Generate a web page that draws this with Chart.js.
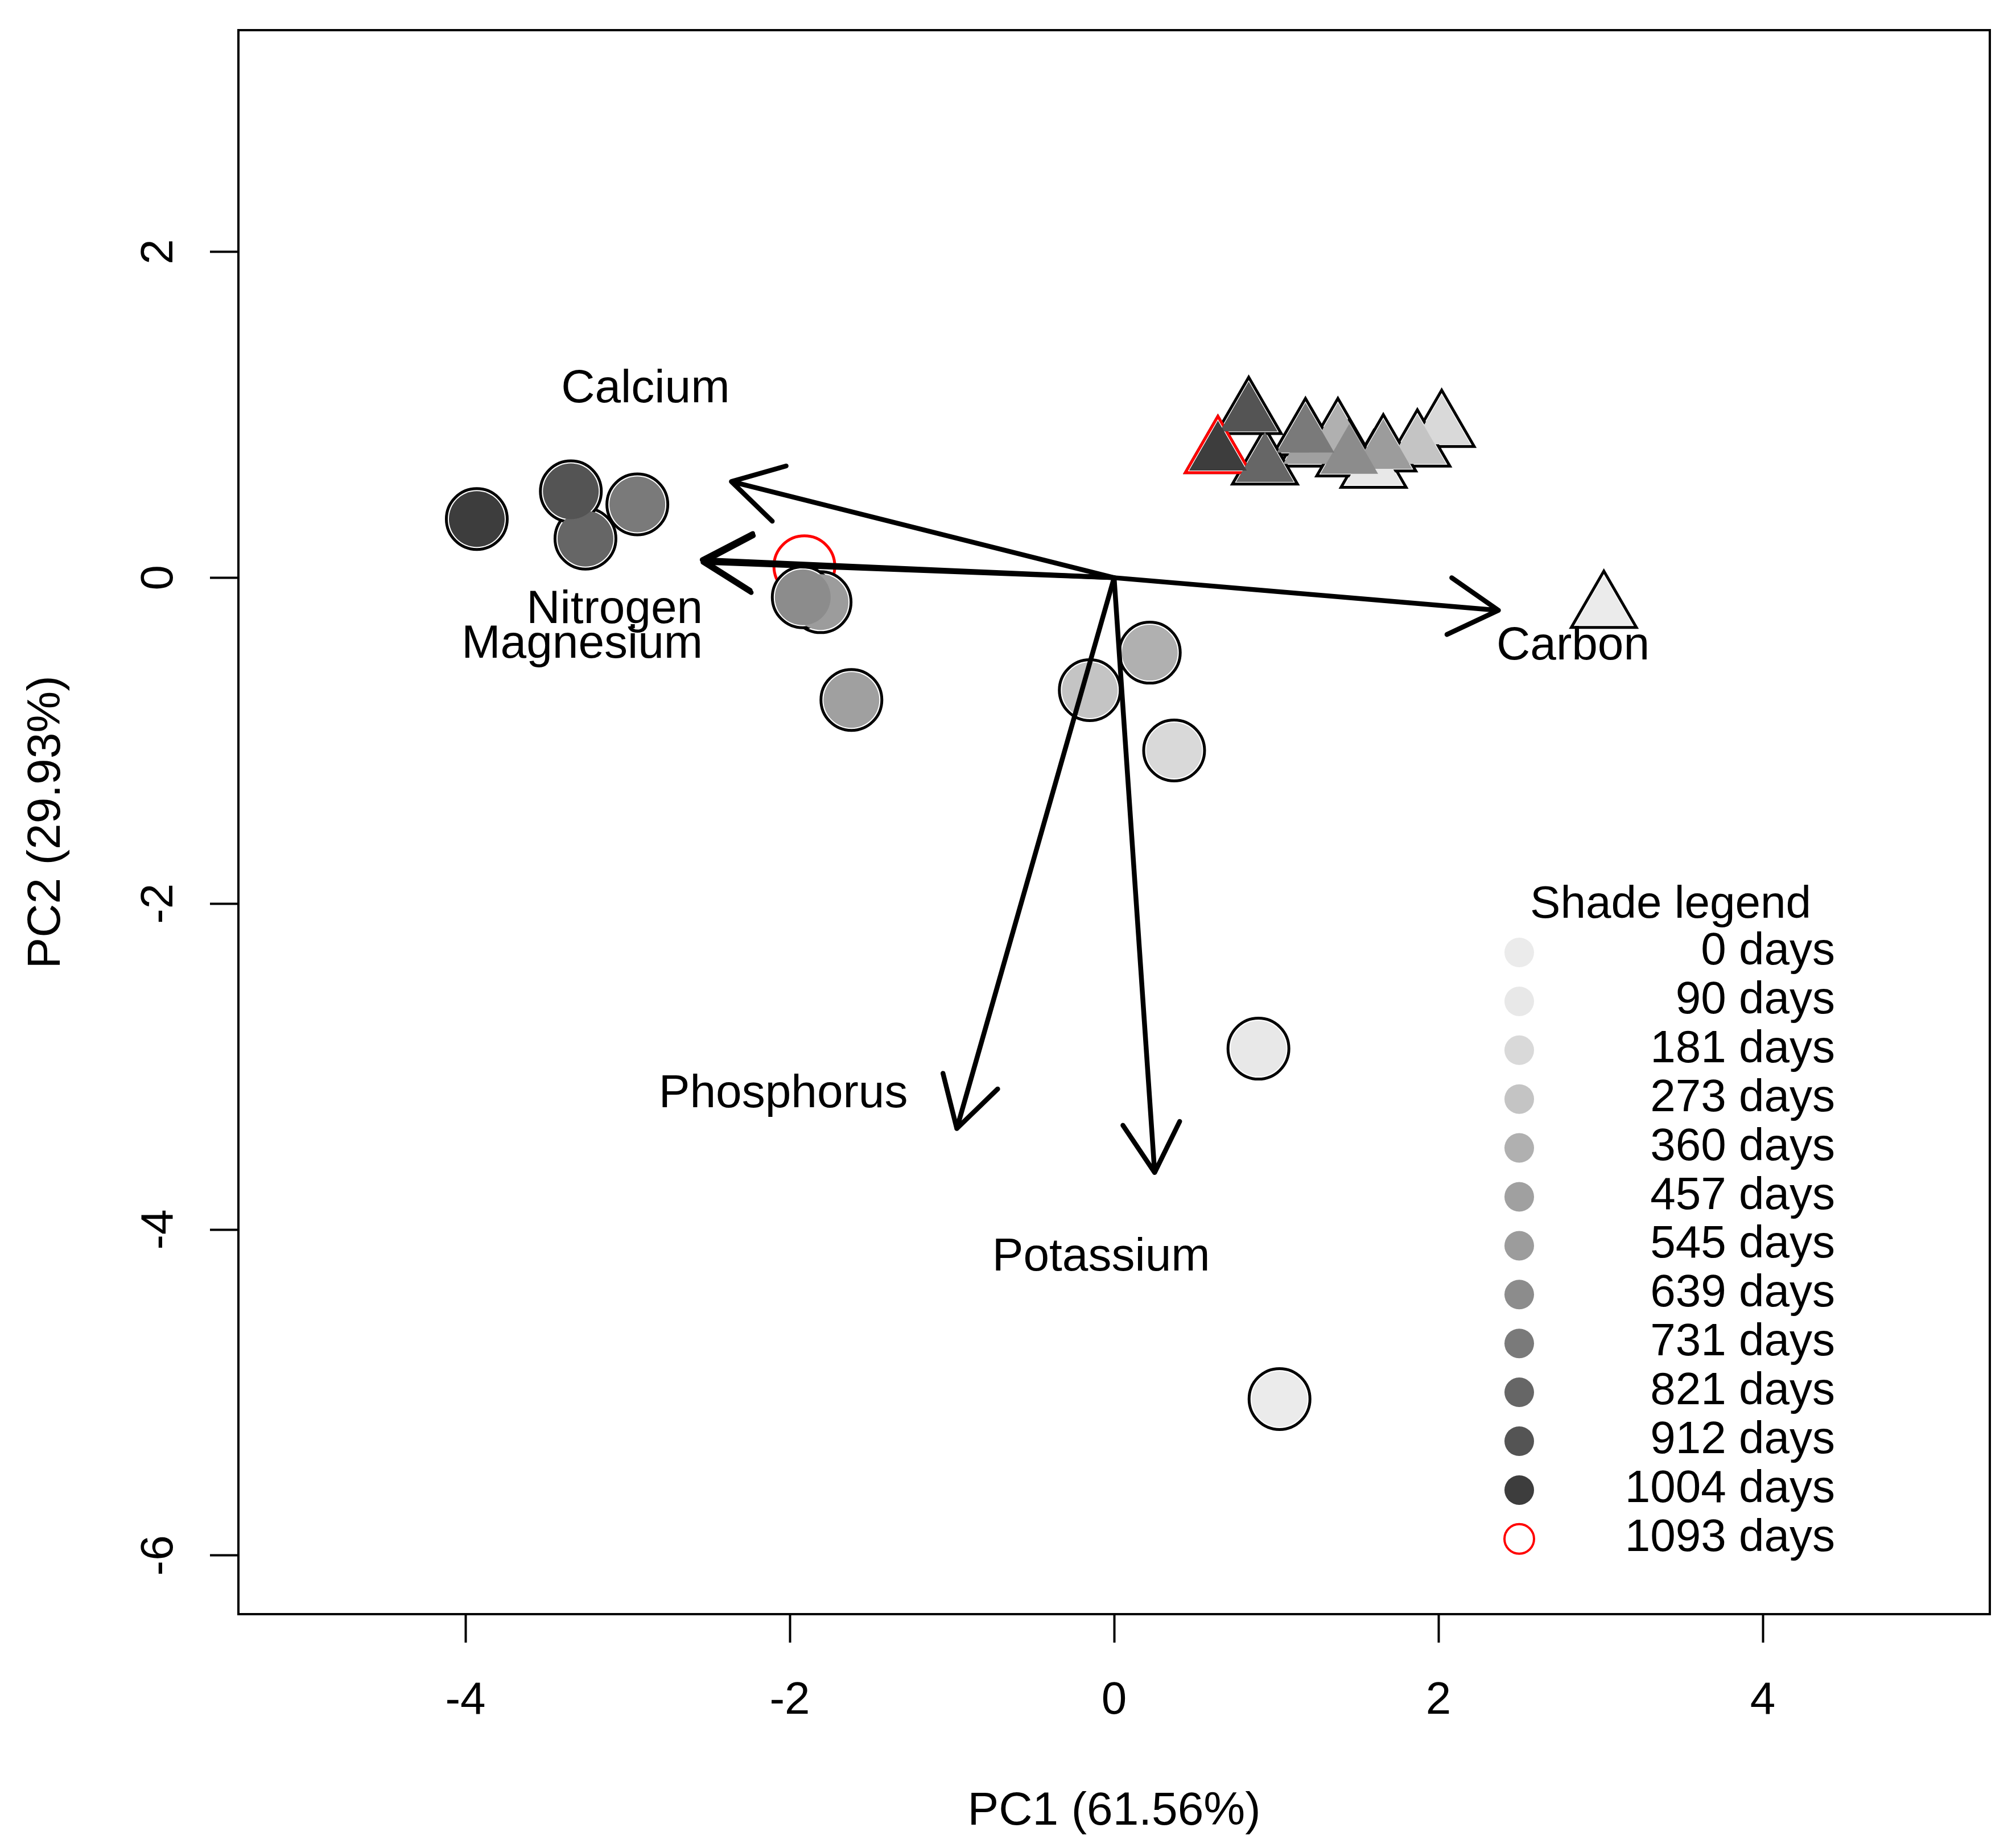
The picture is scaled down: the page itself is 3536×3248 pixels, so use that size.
<!DOCTYPE html>
<html>
<head>
<meta charset="utf-8">
<title>PCA biplot</title>
<script src="https://cdn.jsdelivr.net/npm/chart.js@4.4.1/dist/chart.umd.min.js"></script>
<style>
  html, body { margin: 0; padding: 0; background: #fff; }
  canvas { display: block; }
</style>
</head>
<body>
<canvas id="chart" width="3536" height="3248"></canvas>
<script>
const dayLevels = [0, 90, 181, 273, 360, 457, 545, 639, 731, 821, 912, 1004, 1093];
const dayShades = ['#ebebeb', '#e8e8e8', '#d9d9d9', '#c4c4c4', '#b0b0b0', '#a0a0a0', '#9c9c9c', '#8c8c8c', '#7a7a7a', '#666666', '#545454', '#3d3d3d', null];

// circles (drawn in this order)
const circleDays = [1093, 0, 90, 181, 273, 360, 457, 545, 639, 731, 821, 912, 1004];
const circleX = [-1.91, 1.02, 0.89, 0.37, -0.15, 0.22, -1.62, -1.81, -1.92, -2.94, -3.26, -3.35, -3.93];
const circleY = [0.07, -5.04, -2.89, -1.06, -0.69, -0.46, -0.75, -0.15, -0.12, 0.45, 0.24, 0.53, 0.36];

// triangles (drawn in this order)
const triangleDays = [0, 90, 181, 273, 457, 360, 545, 639, 731, 821, 912, 1004, 1093];
const triangleX = [3.02, 1.60, 2.02, 1.87, 1.22, 1.38, 1.66, 1.45, 1.18, 0.93, 0.83, 0.64, 0.64];
const triangleY = [-0.19, 0.67, 0.92, 0.80, 0.80, 0.87, 0.77, 0.74, 0.87, 0.69, 1.00, 0.76, 0.76];

// loading arrows and their labels
const variables = ['Calcium', 'Nitrogen', 'Magnesium', 'Carbon', 'Phosphorus', 'Potassium'];
const loadingX = [-2.36, -2.54, -2.535, 2.37, -0.97, 0.25];
const loadingY = [0.59, 0.11, 0.095, -0.20, -3.38, -3.65];
const labelX = [-2.89, -3.08, -3.28, 2.83, -2.04, -0.08];
const labelY = [1.18, -0.175, -0.39, -0.40, -3.145, -4.15];

const xTicks = [-4, -2, 0, 2, 4];
const yTicks = [-6, -4, -2, 0, 2];

const FONT = '"Liberation Sans", Arial, sans-serif';

function capText(ctx, text, x, y, size, align) {
  // y is the middle of the capitals
  ctx.font = size + 'px ' + FONT;
  ctx.textAlign = align || 'center';
  ctx.textBaseline = 'alphabetic';
  ctx.fillText(text, x, y + 0.358 * size);
}

const shadeFor = d => dayShades[dayLevels.indexOf(d)] || 'rgba(0,0,0,0)';
const edgeFor = d => d === 1093 ? '#ff0000' : '#000000';
const toPoints = (xs, ys) => xs.map((v, i) => ({ x: v, y: ys[i] }));

const biplotPlugin = {
  id: 'biplot',
  afterDatasetsDraw(chart) {
    const { ctx, scales: { x, y } } = chart;
    const x0 = x.getPixelForValue(0);
    const y0 = y.getPixelForValue(0);
    ctx.save();
    ctx.strokeStyle = '#000';
    ctx.lineWidth = 8.5;
    ctx.lineCap = 'round';
    ctx.lineJoin = 'round';
    variables.forEach((name, i) => {
      const tx = x.getPixelForValue(loadingX[i]);
      const ty = y.getPixelForValue(loadingY[i]);
      const ang = Math.atan2(ty - y0, tx - x0);
      ctx.beginPath();
      ctx.moveTo(x0, y0);
      ctx.lineTo(tx, ty);
      [-1, 1].forEach(s => {
        const a = ang + Math.PI + s * Math.PI / 6;
        ctx.moveTo(tx, ty);
        ctx.lineTo(tx + 100 * Math.cos(a), ty + 100 * Math.sin(a));
      });
      ctx.stroke();
    });
    ctx.fillStyle = '#000';
    variables.forEach((name, i) => {
      capText(ctx, name, x.getPixelForValue(labelX[i]), y.getPixelForValue(labelY[i]), 82);
    });
    ctx.restore();
  },
  afterDraw(chart) {
    const { ctx, chartArea: area, scales: { y } } = chart;
    ctx.save();
    // box
    ctx.strokeStyle = '#000';
    ctx.lineWidth = 4;
    ctx.strokeRect(area.left, area.top, area.right - area.left, area.bottom - area.top);

    // y tick labels, parallel to the axis
    ctx.fillStyle = '#000';
    ctx.font = '80px ' + FONT;
    ctx.textAlign = 'center';
    ctx.textBaseline = 'alphabetic';
    y.ticks.forEach(t => {
      ctx.save();
      ctx.translate(area.left - 116, y.getPixelForValue(t.value));
      ctx.rotate(-Math.PI / 2);
      ctx.fillText(t.label, 0, 0);
      ctx.restore();
    });

    // shade legend
    const lx = 2670, ly = 1674, step = 85.9;
    capText(ctx, 'Shade legend', 2936, 1584, 80);
    dayLevels.forEach((d, i) => {
      const cy = ly + i * step;
      ctx.beginPath();
      ctx.arc(lx, cy, 26, 0, Math.PI * 2);
      if (dayShades[i]) {
        ctx.fillStyle = dayShades[i];
        ctx.fill();
      } else {
        ctx.strokeStyle = '#ff0000';
        ctx.lineWidth = 4;
        ctx.stroke();
      }
      ctx.fillStyle = '#000';
      ctx.font = '80px ' + FONT;
      ctx.textAlign = 'right';
      ctx.fillText(d + ' days', 3225, cy + 21);
    });
    ctx.restore();
  }
};

new Chart(document.getElementById('chart'), {
  type: 'scatter',
  data: {
    datasets: [
      {
        label: 'circle fill',
        data: toPoints(circleX, circleY),
        pointStyle: 'circle',
        pointRadius: 49,
        pointBorderWidth: 0,
        pointBackgroundColor: circleDays.map(shadeFor),
        order: 1
      },
      {
        label: 'triangle fill',
        data: toPoints(triangleX, triangleY),
        pointStyle: 'triangle',
        pointRadius: 58.5,
        pointBorderWidth: 0,
        pointBackgroundColor: triangleDays.map(shadeFor),
        order: 1
      },
      {
        label: 'circle edge',
        data: toPoints(circleX, circleY),
        pointStyle: 'circle',
        pointRadius: 53.5,
        pointBorderWidth: 5,
        pointBorderColor: circleDays.map(edgeFor),
        pointBackgroundColor: '#ffffff',
        order: 2
      },
      {
        label: 'triangle edge',
        data: toPoints(triangleX, triangleY),
        pointStyle: 'triangle',
        pointRadius: 66,
        pointBorderWidth: 5,
        pointBorderColor: triangleDays.map(edgeFor),
        pointBackgroundColor: '#ffffff',
        order: 2
      }
    ]
  },
  options: {
    responsive: false,
    animation: false,
    devicePixelRatio: 1,
    events: [],
    layout: { autoPadding: false, padding: { left: 0, top: 53, right: 39, bottom: 0 } },
    plugins: {
      legend: { display: false },
      tooltip: { enabled: false }
    },
    scales: {
      x: {
        type: 'linear',
        position: 'bottom',
        min: -5.4,
        max: 5.4,
        afterBuildTicks: s => { s.ticks = xTicks.map(v => ({ value: v })); },
        afterFit: s => { s.height = 411; },
        border: { display: false },
        grid: { drawOnChartArea: false, tickLength: 50, tickWidth: 4, tickColor: '#000' },
        ticks: { color: '#000', font: { family: FONT, size: 80, lineHeight: 1.2 }, padding: 55, maxRotation: 0, autoSkip: false },
        title: {
          display: true,
          text: 'PC1 (61.56%)',
          color: '#000',
          font: { family: FONT, size: 82, lineHeight: 1.2 },
          padding: { top: 0, bottom: 14 }
        }
      },
      y: {
        type: 'linear',
        position: 'left',
        min: -6.36,
        max: 3.36,
        afterBuildTicks: s => { s.ticks = yTicks.map(v => ({ value: v })); },
        afterFit: s => { s.width = 419; },
        border: { display: false },
        grid: { drawOnChartArea: false, tickLength: 50, tickWidth: 4, tickColor: '#000' },
        ticks: { display: false },
        title: {
          display: true,
          text: 'PC2 (29.93%)',
          color: '#000',
          font: { family: FONT, size: 82, lineHeight: 1.2 },
          padding: { top: 33, bottom: 0 }
        }
      }
    }
  },
  plugins: [biplotPlugin]
});
</script>
</body>
</html>
